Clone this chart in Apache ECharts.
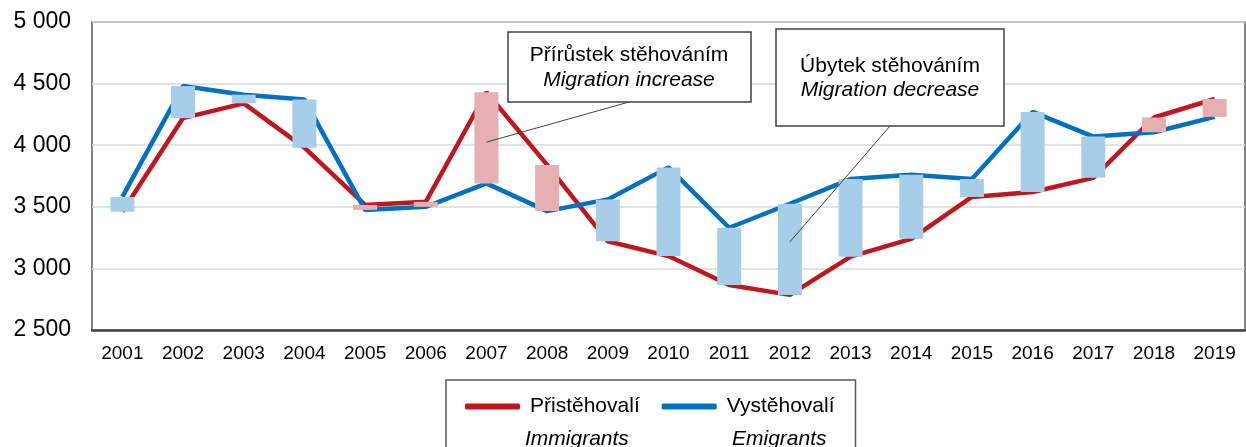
<!DOCTYPE html>
<html>
<head>
  <meta charset="utf-8">
  <title>Přistěhovalí a vystěhovalí</title>
  <script src="https://cdn.jsdelivr.net/npm/echarts@6/dist/echarts.min.js"></script>
  <style>html, body { margin: 0; padding: 0; background: #fff; }</style>
</head>
<body>
  <div id="chart" style="width: 1246px; height: 447px;"></div>
  <script>
    var years = ['2001', '2002', '2003', '2004', '2005', '2006', '2007', '2008', '2009', '2010',
      '2011', '2012', '2013', '2014', '2015', '2016', '2017', '2018', '2019']
    var immigrants = [3460, 4220, 4340, 3980, 3515, 3540, 4430, 3840, 3220, 3100,
      2865, 2785, 3095, 3240, 3580, 3620, 3735, 4225, 4375]
    var emigrants = [3580, 4480, 4410, 4370, 3475, 3500, 3690, 3465, 3560, 3820,
      3330, 3525, 3725, 3760, 3725, 4270, 4070, 4105, 4230]

    var FONT = "'Liberation Sans', Arial, sans-serif"
    var RED = '#C0171F'
    var BLUE = '#0070C0'

    // up/down bars: invisible base up to the lower line, then the difference
    var baseData = []
    var diffData = []
    for (var i = 0; i < years.length; i++) {
      var lo = Math.min(immigrants[i], emigrants[i])
      baseData.push(lo)
      diffData.push({
        value: Math.abs(immigrants[i] - emigrants[i]),
        itemStyle: { color: immigrants[i] > emigrants[i] ? '#E6B0B3' : '#A6CEE8' }
      })
    }

    var myChart = echarts.init(document.getElementById('chart'))
    var option = {
      animation: false,
      textStyle: { fontFamily: FONT },
      grid: {
        left: 92, right: 1, top: 22, bottom: 117,
        show: true, borderColor: '#595959', borderWidth: 1.5
      },
      legend: {
        left: 446, top: 380,
        data: ['Přistěhovalí', 'Vystěhovalí'],
        icon: 'roundRect',
        itemWidth: 55, itemHeight: 6, itemGap: 22,
        borderColor: '#595959', borderWidth: 1.5,
        padding: [16, 21, 60, 19],
        textStyle: { fontFamily: FONT, fontSize: 21, color: '#000', padding: [0, 0, 0, 5] }
      },
      xAxis: {
        type: 'category',
        data: years,
        axisTick: { show: false },
        axisLine: { lineStyle: { color: '#404040', width: 2.5 } },
        axisLabel: { fontSize: 19, color: '#000', margin: 14, interval: 0 }
      },
      yAxis: {
        type: 'value',
        min: 2500, max: 5000, interval: 500,
        axisLabel: {
          fontSize: 23, color: '#000', margin: 21,
          formatter: function (v) { return String(v).replace(/\B(?=(\d{3})+(?!\d))/g, ' ') }
        },
        splitLine: { lineStyle: { color: '#d9d9d9', width: 1.5 } }
      },
      series: [
        {
          name: 'Přistěhovalí', type: 'line', data: immigrants,
          symbol: 'none', z: 2,
          itemStyle: { color: RED },
          lineStyle: { color: RED, width: 4.5 }
        },
        {
          name: 'Vystěhovalí', type: 'line', data: emigrants,
          symbol: 'none', z: 2,
          itemStyle: { color: BLUE },
          lineStyle: { color: BLUE, width: 4.5 }
        },
        {
          name: 'base', type: 'bar', stack: 'ud', data: baseData,
          barWidth: 24, z: 3, silent: true,
          itemStyle: { color: 'rgba(0,0,0,0)' }
        },
        {
          name: 'diff', type: 'bar', stack: 'ud', data: diffData,
          barWidth: 24, z: 3
        }
      ]
    }
    myChart.setOption(option)

    // callouts with leader lines pointing at the 2007 and 2012 bars
    var p1 = myChart.convertToPixel({ gridIndex: 0 }, ['2007', 4025])
    var p2 = myChart.convertToPixel({ gridIndex: 0 }, ['2012', 3215])
    var boxStyle = { fill: '#fff', stroke: '#404040', lineWidth: 1.5 }
    var txt = function (x, y, s, italic, align) {
      return {
        type: 'text', x: x, y: y, z: 20,
        style: {
          text: s, fill: '#000', font: (italic ? 'italic ' : '') + '21px ' + FONT,
          align: align || 'center', verticalAlign: 'middle'
        }
      }
    }
    myChart.setOption({
      graphic: [
        { type: 'line', z: 19, shape: { x1: 629, y1: 102, x2: p1[0], y2: p1[1] }, style: { stroke: '#404040', lineWidth: 1 } },
        { type: 'line', z: 19, shape: { x1: 890, y1: 126, x2: p2[0], y2: p2[1] }, style: { stroke: '#404040', lineWidth: 1 } },
        { type: 'rect', z: 19, shape: { x: 508, y: 32, width: 243, height: 70 }, style: boxStyle },
        txt(629, 55, 'Přírůstek stěhováním', false),
        txt(629, 80, 'Migration increase', true),
        { type: 'rect', z: 19, shape: { x: 776, y: 29, width: 228, height: 97 }, style: boxStyle },
        txt(890, 66, 'Úbytek stěhováním', false),
        txt(890, 90, 'Migration decrease', true),
        txt(525, 439, 'Immigrants', true, 'left'),
        txt(732, 439, 'Emigrants', true, 'left')
      ]
    })
  </script>
</body>
</html>
